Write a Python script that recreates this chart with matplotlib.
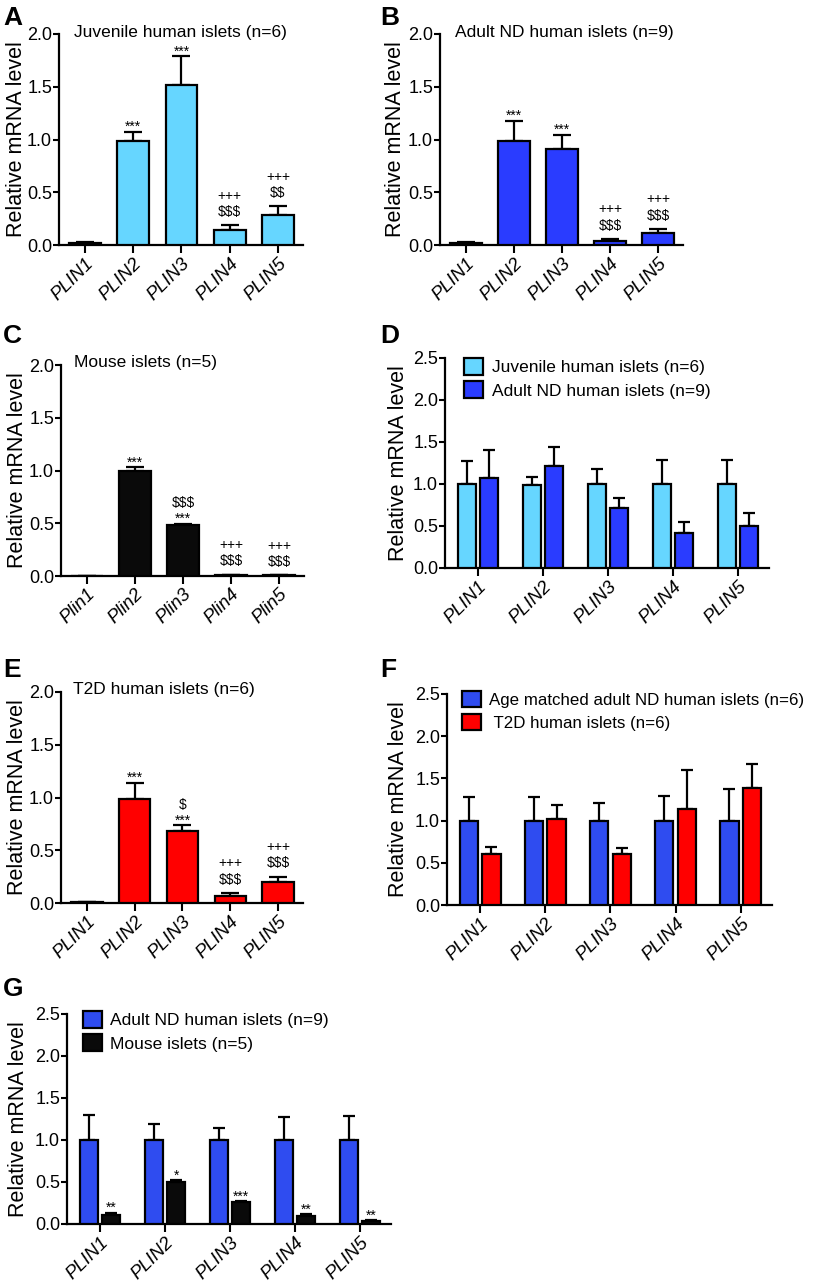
import numpy as np
import matplotlib
matplotlib.use("Agg")
import matplotlib.pyplot as plt

plt.rcParams['font.family'] = ['Liberation Sans', 'DejaVu Sans']

# ---------------- data ----------------
genes_human = ['PLIN1', 'PLIN2', 'PLIN3', 'PLIN4', 'PLIN5']
genes_mouse = ['Plin1', 'Plin2', 'Plin3', 'Plin4', 'Plin5']

# A: juvenile human islets (n=6)
juv_mean = [0.02, 0.99, 1.52, 0.14, 0.28]
juv_sem = [0.01, 0.085, 0.27, 0.045, 0.085]
juv_notes = ['', '***', '***', '+++\n$$$', '+++\n$$']

# B: adult ND human islets (n=9)
adult_mean = [0.015, 0.99, 0.91, 0.04, 0.11]
adult_sem = [0.01, 0.19, 0.135, 0.017, 0.042]
adult_notes = ['', '***', '***', '+++\n$$$', '+++\n$$$']

# C: mouse islets (n=5)
mouse_mean = [0.003, 1.0, 0.48, 0.01, 0.006]
mouse_sem = [0.001, 0.03, 0.017, 0.002, 0.002]
mouse_notes = ['', '***', '$$$\n***', '+++\n$$$', '+++\n$$$']

# D: juvenile vs adult ND (relative)
d_juv = [1.0, 0.99, 1.0, 1.0, 1.0]
d_juv_sem = [0.27, 0.09, 0.18, 0.29, 0.29]
d_adult = [1.07, 1.21, 0.72, 0.42, 0.50]
d_adult_sem = [0.33, 0.23, 0.11, 0.13, 0.15]
d_labels = ['Juvenile human islets (n=6)', 'Adult ND human islets (n=9)']

# E: T2D human islets (n=6)
t2d_mean = [0.005, 0.99, 0.68, 0.063, 0.20]
t2d_sem = [0.002, 0.15, 0.057, 0.032, 0.051]
t2d_notes = ['', '***', '$\n***', '+++\n$$$', '+++\n$$$']

# F: age matched ND vs T2D (relative)
f_nd = [1.0, 1.0, 1.0, 1.0, 1.0]
f_nd_sem = [0.28, 0.28, 0.21, 0.29, 0.37]
f_t2d = [0.61, 1.02, 0.61, 1.14, 1.39]
f_t2d_sem = [0.08, 0.16, 0.06, 0.46, 0.28]
f_labels = ['Age matched adult ND human islets (n=6)', ' T2D human islets (n=6)']

# G: adult ND vs mouse (relative)
g_adult = [1.0, 1.0, 1.0, 1.0, 1.0]
g_adult_sem = [0.30, 0.19, 0.14, 0.27, 0.29]
g_mouse = [0.107, 0.50, 0.26, 0.09, 0.036]
g_mouse_sem = [0.028, 0.02, 0.012, 0.025, 0.014]
g_notes = ['**', '*', '***', '**', '**']
g_labels = ['Adult ND human islets (n=9)', 'Mouse islets (n=5)']

# ---------------- style ----------------
CYAN = '#66D6FF'
BLUE = '#2A3CFF'
BLUE2 = '#2F4CF0'
RED = '#FF0000'
BLACK = '#0A0A0A'

W, H = 816, 1283
fig = plt.figure(figsize=(W / 100, H / 100), dpi=100)


def add_ax(x0, x1, ytop, ybot):
    return fig.add_axes([x0 / W, 1 - ybot / H, (x1 - x0) / W, (ybot - ytop) / H])


def style_axis(ax, ymax, xlim, label_off_px, axw_px):
    for s in ['top', 'right']:
        ax.spines[s].set_visible(False)
    for s in ['left', 'bottom']:
        ax.spines[s].set_linewidth(1.6)
    ax.set_ylim(0, ymax)
    ax.set_xlim(*xlim)
    ax.set_yticks(np.arange(0, ymax + 0.01, 0.5))
    ax.set_yticklabels([f'{v:.1f}' for v in np.arange(0, ymax + 0.01, 0.5)])
    ax.tick_params(axis='y', length=4, width=1.5, labelsize=13, pad=1)
    ax.tick_params(axis='x', length=6, width=1.5, labelsize=13.5, pad=1)
    ax.set_ylabel('Relative mRNA level', fontsize=15.5)
    ax.yaxis.set_label_coords(-label_off_px / axw_px, 0.5)


def set_xlabels(ax, labels):
    ax.set_xticks(np.arange(len(labels)))
    ax.set_xticklabels(labels, rotation=45, ha='right', va='top',
                       rotation_mode='anchor', fontstyle='italic')


def add_note(ax, x, y, note):
    if not note:
        return
    last = note.split('\n')[-1]
    off = -1.8 if last.startswith('*') else 4.6
    ax.annotate(note, xy=(x, y), xytext=(0, off), textcoords='offset points',
                ha='center', va='bottom', fontsize=10, linespacing=1.2,
                annotation_clip=False, parse_math=False)


def single_panel(box, labels, means, sems, color, notes, label_off):
    x0, x1, yt, yb = box
    ax = add_ax(x0, x1, yt, yb)
    x = np.arange(len(labels))
    ax.bar(x, means, width=0.66, color=color, edgecolor='black', linewidth=1.6, zorder=3)
    ax.errorbar(x, means, yerr=[np.zeros(len(x)), sems], fmt='none', ecolor='black',
                elinewidth=1.6, capsize=6.5, capthick=1.6, zorder=2)
    for xi, m, s, n in zip(x, means, sems, notes):
        add_note(ax, xi, m + s, n)
    style_axis(ax, 2.0, (-0.54, 4.52), label_off, x1 - x0)
    set_xlabels(ax, labels)
    return ax


def group_panel(box, labels, m1, s1, c1, m2, s2, c2, leg_labels, label_off,
                leg_dx, leg_dy, leg_fs=12.5, notes2=None):
    x0, x1, yt, yb = box
    ax = add_ax(x0, x1, yt, yb)
    x = np.arange(len(labels))
    off = 0.173
    bw = 0.28
    b1 = ax.bar(x - off, m1, width=bw, color=c1, edgecolor='black', linewidth=1.6, zorder=3)
    b2 = ax.bar(x + off, m2, width=bw, color=c2, edgecolor='black', linewidth=1.6, zorder=3)
    ax.errorbar(x - off, m1, yerr=[np.zeros(len(x)), s1], fmt='none', ecolor='black',
                elinewidth=1.6, capsize=4, capthick=1.6, zorder=2)
    ax.errorbar(x + off, m2, yerr=[np.zeros(len(x)), s2], fmt='none', ecolor='black',
                elinewidth=1.6, capsize=4, capthick=1.6, zorder=2)
    if notes2 is not None:
        for xi, m, s, n in zip(x + off, m2, s2, notes2):
            add_note(ax, xi, m + s, n)
    style_axis(ax, 2.5, (-0.51, 4.48), label_off, x1 - x0)
    set_xlabels(ax, labels)
    axw = x1 - x0
    axh = yb - yt
    ax.legend([b1, b2], leg_labels, loc='upper left',
              bbox_to_anchor=(leg_dx / axw, 1.0 + leg_dy / axh), frameon=False,
              fontsize=leg_fs, handlelength=1.1, handleheight=1.1, handletextpad=0.5,
              labelspacing=0.36, borderpad=0, borderaxespad=0)
    return ax


single_panel((59, 303, 34, 245), genes_human, juv_mean, juv_sem, CYAN, juv_notes, 32)
single_panel((440, 683, 34, 245), genes_human, adult_mean, adult_sem, BLUE, adult_notes, 34)
single_panel((61, 304, 365, 576), genes_mouse, mouse_mean, mouse_sem, BLACK, mouse_notes, 33)
group_panel((445, 769, 358, 568), genes_human, d_juv, d_juv_sem, CYAN,
            d_adult, d_adult_sem, BLUE, d_labels, 36, 19, 0)
single_panel((61, 303, 692, 903), genes_human, t2d_mean, t2d_sem, RED, t2d_notes, 33)
group_panel((447, 772, 694, 905), genes_human, f_nd, f_nd_sem, BLUE2,
            f_t2d, f_t2d_sem, RED, f_labels, 38, 15, 3, leg_fs=12.2)
group_panel((67, 391, 1014, 1224), genes_human, g_adult, g_adult_sem, BLUE2,
            g_mouse, g_mouse_sem, BLACK, g_labels, 38, 15.5, 3, notes2=g_notes)


def ftext(x, y, s, **kw):
    fig.text(x / W, 1 - y / H, s, **kw)


titles = [(74, 37, 'Juvenile human islets (n=6)'),
          (455, 37, 'Adult ND human islets (n=9)'),
          (74, 367, 'Mouse islets (n=5)'),
          (73, 694, 'T2D human islets (n=6)')]
for x, y, s in titles:
    ftext(x, y, s, fontsize=12.5, va='baseline', ha='left')

letters = [(3, 25, 'A'), (380, 25, 'B'), (3, 343, 'C'), (380, 343, 'D'),
           (3, 677, 'E'), (380, 677, 'F'), (3, 996, 'G')]
for x, y, s in letters:
    ftext(x, y, s, fontsize=19, fontweight='bold', va='baseline', ha='left')

fig.savefig('out.png', dpi=100)
